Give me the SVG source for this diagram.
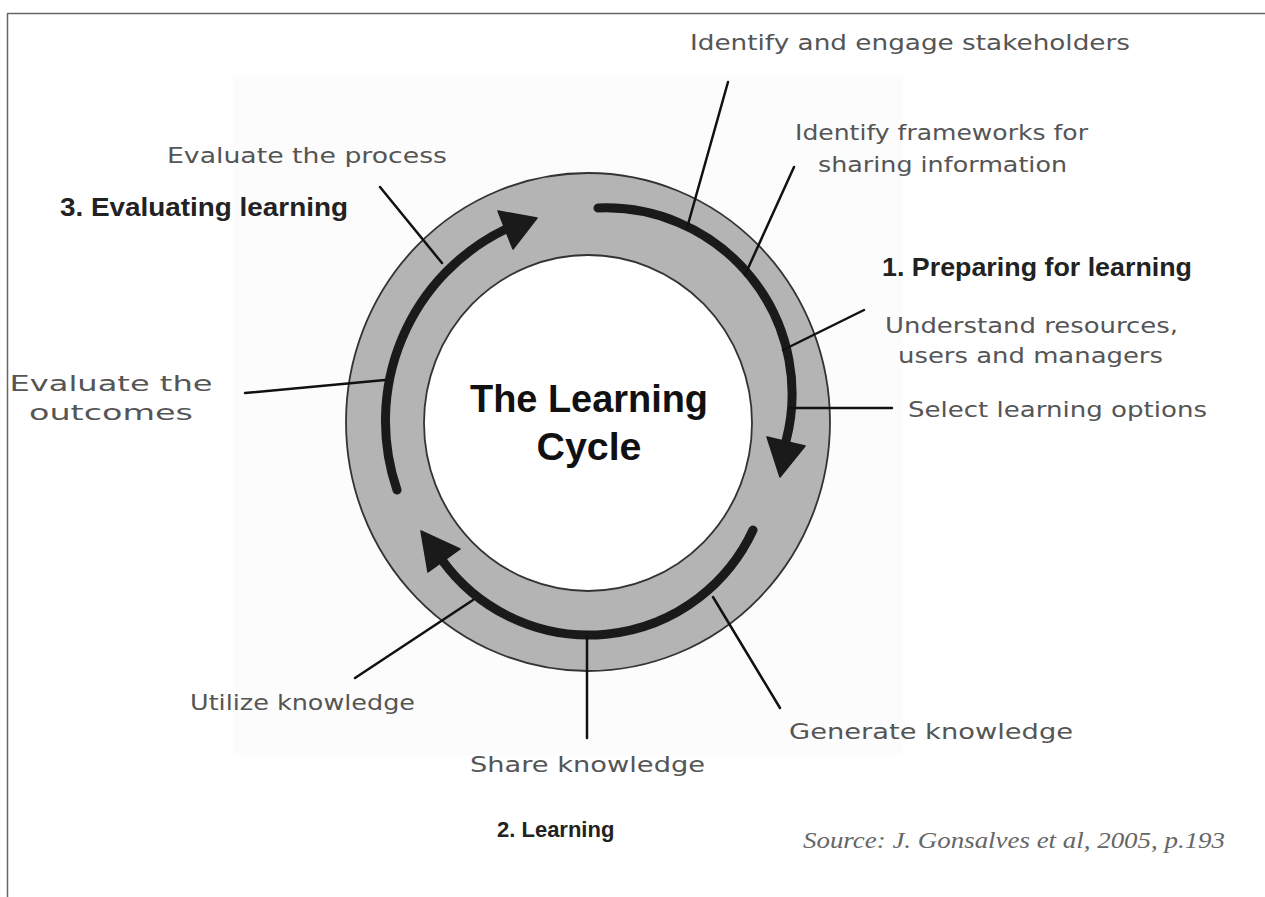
<svg xmlns="http://www.w3.org/2000/svg" width="1265" height="897" viewBox="0 0 1265 897">
  <style>
    .lbl { font-family: "DejaVu Sans", "Noto Sans", sans-serif; font-size: 22px; fill: #555; }
    .bold { font-family: "Liberation Sans", Arial, sans-serif; font-weight: bold; font-size: 26px; fill: #222; }
    .title { font-family: "Liberation Sans", Arial, sans-serif; font-weight: bold; font-size: 38px; fill: #111; }
    .src { font-family: "Liberation Serif", "Times New Roman", serif; font-style: italic; font-size: 24px; fill: #666; }
    .lead { stroke: #111; stroke-width: 2.5; fill: none; stroke-linecap: round; }
    .arc { stroke: #1a1a1a; stroke-width: 9; fill: none; stroke-linecap: round; }
    .head { fill: #1a1a1a; stroke: #1a1a1a; stroke-width: 1.5; stroke-linejoin: round; }
  </style>
  <rect x="0" y="0" width="1265" height="897" fill="#ffffff"/>
  <rect x="233" y="75" width="670" height="680" fill="#fcfcfc"/>
  <g id="frame" stroke="#666" stroke-width="1.5" fill="none">
    <line x1="7" y1="13.5" x2="1265" y2="13.5"/>
    <line x1="7.5" y1="13.5" x2="7.5" y2="897"/>
  </g>

  <g id="ring">
    <ellipse cx="588" cy="422" rx="242" ry="249" fill="#b4b4b4" stroke="#333" stroke-width="1.8"/>
    <ellipse cx="588" cy="423" rx="164" ry="168" fill="#ffffff" stroke="#333" stroke-width="1.8"/>
  </g>

  <g id="cycle-arrows">
    <path class="arc" d="M598,208 A186,186 0 0 1 786,441"/>
    <polygon class="head" points="767,437 805,446 780,477"/>
    <path class="arc" d="M753,530 A181,181 0 0 1 442,560"/>
    <polygon class="head" points="421,531 460,549 428,572"/>
    <path class="arc" d="M397,490 A213,213 0 0 1 506,229"/>
    <polygon class="head" points="498,211 537,218 513,249"/>
  </g>

  <g id="connectors">
    <line class="lead" x1="728" y1="82" x2="687" y2="228"/>
    <line class="lead" x1="794" y1="167" x2="745" y2="275"/>
    <line class="lead" x1="864" y1="310" x2="783" y2="350"/>
    <line class="lead" x1="790" y1="408" x2="892" y2="408"/>
    <line class="lead" x1="713" y1="597" x2="780" y2="708"/>
    <line class="lead" x1="587" y1="637" x2="587" y2="738"/>
    <line class="lead" x1="473" y1="600" x2="355" y2="678"/>
    <line class="lead" x1="245" y1="393" x2="385" y2="380"/>
    <line class="lead" x1="380" y1="187" x2="442" y2="263"/>
  </g>

  <g id="center-title">
    <text class="title" x="589" y="412" text-anchor="middle" textLength="238" lengthAdjust="spacingAndGlyphs">The Learning</text>
    <text class="title" x="589" y="460" text-anchor="middle" textLength="105" lengthAdjust="spacingAndGlyphs">Cycle</text>
  </g>

  <g id="stage-1">
    <text class="bold" x="882" y="276" textLength="310" lengthAdjust="spacingAndGlyphs">1. Preparing for learning</text>
  </g>
  <g id="stage-2">
    <text class="bold" x="497" y="837" style="font-size:22px">2. Learning</text>
  </g>
  <g id="stage-3">
    <text class="bold" x="60" y="216" textLength="288" lengthAdjust="spacingAndGlyphs">3. Evaluating learning</text>
  </g>

  <g id="identify-stakeholders">
    <text class="lbl" x="690" y="50" textLength="440" lengthAdjust="spacingAndGlyphs">Identify and engage stakeholders</text>
  </g>
  <g id="identify-frameworks">
    <text class="lbl" x="795" y="140" textLength="293" lengthAdjust="spacingAndGlyphs">Identify frameworks for</text>
    <text class="lbl" x="818" y="172" textLength="249" lengthAdjust="spacingAndGlyphs">sharing information</text>
  </g>
  <g id="understand-resources">
    <text class="lbl" x="885" y="333" textLength="293" lengthAdjust="spacingAndGlyphs">Understand resources,</text>
    <text class="lbl" x="898" y="363" textLength="265" lengthAdjust="spacingAndGlyphs">users and managers</text>
  </g>
  <g id="select-options">
    <text class="lbl" x="908" y="417" textLength="299" lengthAdjust="spacingAndGlyphs">Select learning options</text>
  </g>
  <g id="generate-knowledge">
    <text class="lbl" x="789" y="739" textLength="284" lengthAdjust="spacingAndGlyphs">Generate knowledge</text>
  </g>
  <g id="share-knowledge">
    <text class="lbl" x="470" y="772" textLength="235" lengthAdjust="spacingAndGlyphs">Share knowledge</text>
  </g>
  <g id="utilize-knowledge">
    <text class="lbl" x="190" y="710" textLength="225" lengthAdjust="spacingAndGlyphs">Utilize knowledge</text>
  </g>
  <g id="evaluate-outcomes">
    <text class="lbl" x="111" y="391" text-anchor="middle" textLength="203" lengthAdjust="spacingAndGlyphs">Evaluate the</text>
    <text class="lbl" x="111" y="420" text-anchor="middle" textLength="164" lengthAdjust="spacingAndGlyphs">outcomes</text>
  </g>
  <g id="evaluate-process">
    <text class="lbl" x="167" y="163" textLength="280" lengthAdjust="spacingAndGlyphs">Evaluate the process</text>
  </g>

  <g id="source">
    <text class="src" x="803" y="848" textLength="422" lengthAdjust="spacingAndGlyphs">Source: J. Gonsalves et al, 2005, p.193</text>
  </g>
</svg>
